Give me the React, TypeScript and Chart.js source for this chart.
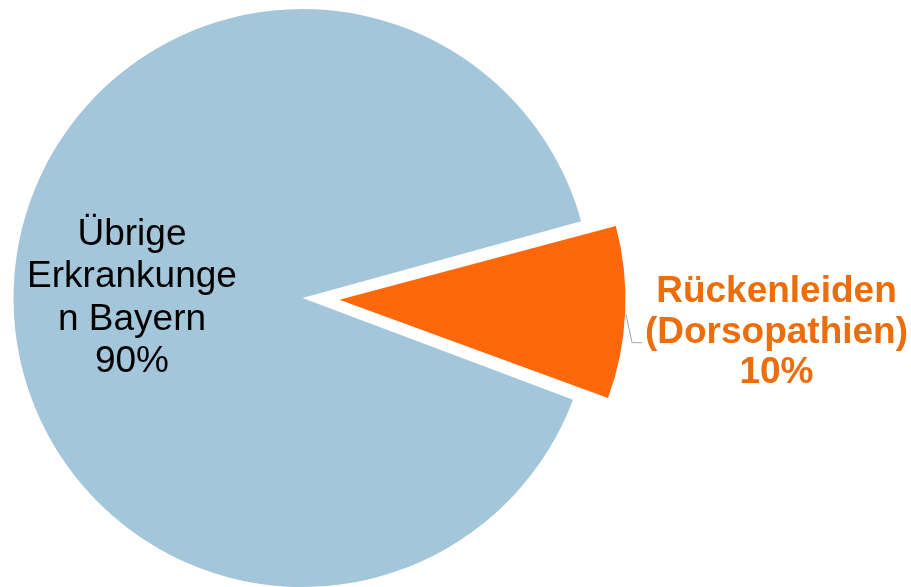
import React, { useEffect, useRef } from "react";
import { Chart, registerables } from "chart.js";

Chart.register(...registerables);

const categories = ["Rückenleiden (Dorsopathien)", "Übrige Erkrankungen Bayern"];
const values = [10, 90];
const labelLines = [
  ["Rückenleiden", "(Dorsopathien)", "10%"],
  ["Übrige", "Erkrankunge", "n Bayern", "90%"],
];
const colors = ["#ff670b", "#a3c6da"];
const labelColors = ["#ec6d0c", "#000000"];
// Chart.js translates an arc by offset/4
const offsets = [148, 0];

const FONT = "'Liberation Sans', Arial, Helvetica, sans-serif";

// Chart.js enlarges offset arcs by (offset/4)*(1-sin(circumference)); keep the exploded slice
// slightly smaller than the main pie like in the reference.
const radiusPlugin = {
  id: "explodedRadius",
  afterDatasetsUpdate(chart: any) {
    const meta = chart.getDatasetMeta(0);
    const orange = meta.data[0] as any;
    const blue = meta.data[1] as any;
    const circ = orange.endAngle - orange.startAngle;
    const fix = 1 - Math.sin(Math.min(Math.PI, circ));
    orange.outerRadius = blue.outerRadius - 3 - (offsets[0] / 4) * fix;
  },
};

const labelPlugin = {
  id: "sliceLabels",
  afterDraw(chart: any) {
    const ctx = chart.ctx as CanvasRenderingContext2D;
    const meta = chart.getDatasetMeta(0);
    const orange = meta.data[0] as any;
    const blue = meta.data[1] as any;
    const R = blue.outerRadius;
    const cx = blue.x;
    const cy = blue.y;

    ctx.save();
    ctx.textAlign = "center";
    ctx.textBaseline = "alphabetic";

    // Blue slice label (inside)
    ctx.font = `37px ${FONT}`;
    ctx.fillStyle = labelColors[1];
    const bx = cx - 0.59 * R;
    labelLines[1].forEach((t, i) => {
      ctx.fillText(t, bx, cy - 53 + i * 42.3);
    });

    // Orange slice label (outside)
    ctx.font = `bold 37px ${FONT}`;
    ctx.fillStyle = labelColors[0];
    const ox0 = cx + 1.64 * R;
    labelLines[0].forEach((t, i) => {
      ctx.fillText(t, ox0, cy + 4 + i * 40.5);
    });

    // Leader line
    const circ = orange.endAngle - orange.startAngle;
    const fix = 1 - Math.sin(Math.min(Math.PI, circ));
    const shift = offsets[0] / 4;
    const oR = orange.outerRadius + shift * fix;
    const mid = (orange.startAngle + orange.endAngle) / 2;
    const ocx = orange.x + shift * Math.cos(mid);
    const ocy = orange.y + shift * Math.sin(mid);
    const a = (3 * Math.PI) / 180;
    const p0x = ocx + oR * Math.cos(a) + 1;
    const p0y = ocy + oR * Math.sin(a);
    ctx.strokeStyle = "#a6a6a6";
    ctx.lineWidth = 1;
    ctx.beginPath();
    ctx.moveTo(p0x, p0y);
    ctx.lineTo(p0x + 6, p0y + 28);
    ctx.lineTo(p0x + 16, p0y + 28);
    ctx.stroke();
    ctx.restore();
  },
};

export default function App() {
  const ref = useRef<HTMLCanvasElement | null>(null);

  useEffect(() => {
    if (!ref.current) return;
    const chart = new Chart(ref.current, {
      type: "pie",
      data: {
        labels: categories,
        datasets: [
          {
            data: values,
            backgroundColor: colors,
            borderWidth: 0,
            offset: offsets,
            radius: 289,
          } as any,
        ],
      },
      options: {
        responsive: false,
        animation: false,
        rotation: 74.6,
        layout: { padding: { left: 0, right: 306, top: 9, bottom: 0 } },
        plugins: {
          legend: { display: false },
          tooltip: { enabled: false },
        },
      },
      plugins: [radiusPlugin, labelPlugin],
    });
    return () => chart.destroy();
  }, []);

  return (
    <div style={{ position: "absolute", left: 0, top: 0, width: 911, height: 587, background: "#fff" }}>
      <canvas ref={ref} width={911} height={587} style={{ display: "block" }} />
    </div>
  );
}
